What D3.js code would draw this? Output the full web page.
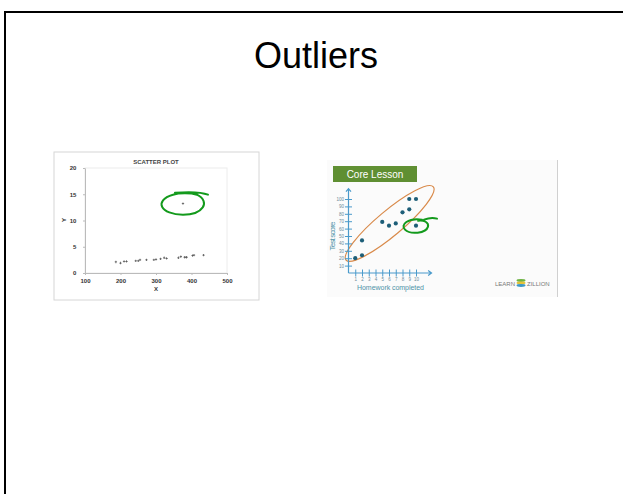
<!DOCTYPE html>
<html>
<head>
<meta charset="utf-8">
<script src="https://cdn.jsdelivr.net/npm/d3@7"></script>
<style>
  body { margin: 0; background: #fff; }
  svg { display: block; font-family: "Liberation Sans", Arial, sans-serif; }
</style>
</head>
<body>
<div id="slide"></div>
<script>
// left picture: generic scatter plot with one outlier
const scatterX = [187, 200, 210, 217, 243, 250, 255, 273, 294, 300, 313, 323, 330, 363, 370, 381, 386, 403, 407, 434, 376];
const scatterY = [2.1, 1.9, 2.2, 2.2, 2.3, 2.3, 2.5, 2.5, 2.5, 2.6, 2.7, 2.9, 2.8, 2.9, 3.1, 3.0, 3.0, 3.3, 3.4, 3.4, 13.2];
const scatterXTicks = [100, 200, 300, 400, 500];
const scatterYTicks = [0, 5, 10, 15, 20];

// right picture: homework vs test score
const homework = [1, 2, 2, 5, 6, 7, 8, 9, 9, 10, 10];
const testScore = [20, 24, 44, 69, 64, 67, 82, 86, 100, 100, 64];
const homeworkTicks = [1, 2, 3, 4, 5, 6, 7, 8, 9, 10];
const scoreTicks = [10, 20, 30, 40, 50, 60, 70, 80, 90, 100];

const W = 623, H = 494;
const svg = d3.select("#slide").append("svg").attr("width", W).attr("height", H);

// slide frame
svg.append("rect").attr("x", 5).attr("y", 12).attr("width", 640).attr("height", 500)
    .attr("fill", "#fff").attr("stroke", "#000").attr("stroke-width", 2);

svg.append("text").attr("x", 316).attr("y", 68).attr("text-anchor", "middle")
    .attr("font-size", 36).attr("fill", "#000").text("Outliers");

// ---------- left picture ----------
const left = svg.append("g");
left.append("rect").attr("x", 54).attr("y", 152).attr("width", 205).attr("height", 148)
    .attr("fill", "#fff").attr("stroke", "#d6d6d6").attr("stroke-width", 1);

const x1 = d3.scaleLinear().domain([100, 500]).range([85, 227]);
const y1 = d3.scaleLinear().domain([0, 20]).range([273, 168]);

left.append("rect").attr("x", x1(100)).attr("y", y1(20))
    .attr("width", x1(500) - x1(100)).attr("height", y1(0) - y1(20))
    .attr("fill", "none").attr("stroke", "#ececec");

left.append("text").attr("x", 156).attr("y", 164).attr("text-anchor", "middle")
    .attr("font-size", 6).attr("font-weight", "bold").attr("fill", "#444").text("SCATTER PLOT");

left.append("g").attr("transform", `translate(0,${y1(0)})`)
    .call(d3.axisBottom(x1).tickValues(scatterXTicks).tickSize(2).tickSizeOuter(0))
    .call(g => g.selectAll("text").attr("font-size", 6).attr("font-weight", "bold").attr("fill", "#333").attr("dy", "0.9em"))
    .call(g => g.selectAll("line,path").attr("stroke", "#bbb"));

left.append("g").attr("transform", `translate(${x1(100)},0)`)
    .call(d3.axisLeft(y1).tickValues(scatterYTicks).tickSize(2).tickSizeOuter(0))
    .call(g => g.selectAll("text").attr("font-size", 6).attr("font-weight", "bold").attr("fill", "#333").attr("dx", "-0.6em"))
    .call(g => g.selectAll("line,path").attr("stroke", "#bbb"));

left.append("text").attr("x", 156).attr("y", 291).attr("text-anchor", "middle")
    .attr("font-size", 6).attr("font-weight", "bold").attr("fill", "#333").text("X");
left.append("text").attr("transform", "translate(66,220) rotate(-90)").attr("text-anchor", "middle")
    .attr("font-size", 6).attr("font-weight", "bold").attr("fill", "#333").text("Y");

left.selectAll(".pt").data(scatterX).enter().append("path")
    .attr("class", "pt")
    .attr("d", d3.symbol(d3.symbolCross, 3))
    .attr("transform", (d, i) => `translate(${x1(d)},${y1(scatterY[i])})`)
    .attr("fill", "#555");

// green hand-drawn loop round the outlier
const o1 = [x1(scatterX[20]), y1(scatterY[20])];
left.append("path")
    .attr("d", `M${o1[0] - 10},${o1[1] - 9} C${o1[0] - 30},${o1[1] - 3} ${o1[0] - 22},${o1[1] + 11} ${o1[0]},${o1[1] + 11}
               C${o1[0] + 20},${o1[1] + 11} ${o1[0] + 28},${o1[1] - 2} ${o1[0] + 14},${o1[1] - 9}
               C${o1[0] + 8},${o1[1] - 11} ${o1[0] - 4},${o1[1] - 11} ${o1[0] - 10},${o1[1] - 9}
               M${o1[0] - 8},${o1[1] - 11} C${o1[0] + 6},${o1[1] - 12} ${o1[0] + 18},${o1[1] - 12} ${o1[0] + 25},${o1[1] - 9}`)
    .attr("fill", "none").attr("stroke", "#139a1c").attr("stroke-width", 2).attr("stroke-linecap", "round");

// ---------- right picture ----------
const right = svg.append("g");
right.append("rect").attr("x", 327).attr("y", 160).attr("width", 231).attr("height", 137)
    .attr("fill", "#fbfbfb");
right.append("line").attr("x1", 557.5).attr("x2", 557.5).attr("y1", 160).attr("y2", 297)
    .attr("stroke", "#d0d0d0");

right.append("rect").attr("x", 333).attr("y", 166).attr("width", 84).attr("height", 16)
    .attr("fill", "#5f8f32");
right.append("text").attr("x", 375).attr("y", 178).attr("text-anchor", "middle")
    .attr("font-size", 10).attr("fill", "#fff").text("Core Lesson");

const x2 = d3.scaleLinear().domain([0, 10]).range([348.5, 416]);
const y2 = d3.scaleLinear().domain([0, 100]).range([273, 199]);
const axisBlue = "#4a9acb";

// orange ellipse round the main cluster
const ec = [x2(6.1), y2(67)];
right.append("ellipse").attr("cx", ec[0]).attr("cy", ec[1]).attr("rx", 57).attr("ry", 12.5)
    .attr("transform", `rotate(-40,${ec[0]},${ec[1]})`)
    .attr("fill", "none").attr("stroke", "#d98a4a").attr("stroke-width", 1.2);

right.append("g").attr("transform", `translate(${x2(0)},0)`)
    .call(d3.axisLeft(y2).tickValues(scoreTicks).tickSize(3).tickSizeOuter(0))
    .call(g => g.select(".domain").remove())
    .call(g => g.selectAll("line").attr("x2", 3.5).attr("x1", -3.5).attr("stroke", axisBlue))
    .call(g => g.selectAll("text").attr("font-size", 4.5).attr("fill", "#6a8a9a").attr("x", -4.5));
right.append("g").attr("transform", `translate(0,${y2(0)})`)
    .call(d3.axisBottom(x2).tickValues(homeworkTicks).tickSize(3).tickSizeOuter(0))
    .call(g => g.select(".domain").remove())
    .call(g => g.selectAll("line").attr("y1", -3.5).attr("y2", 3.5).attr("stroke", axisBlue))
    .call(g => g.selectAll("text").attr("font-size", 4.5).attr("fill", "#6a8a9a").attr("y", 4.5));

// arrows for the axes
right.append("path").attr("d", `M${x2(0)},${y2(0)} V${y2(114)} M${x2(0) - 2.5},${y2(110)} L${x2(0)},${y2(114)} L${x2(0) + 2.5},${y2(110)}`)
    .attr("fill", "none").attr("stroke", axisBlue).attr("stroke-width", 1.2);
right.append("path").attr("d", `M${x2(0)},${y2(0)} H${x2(12.3)} M${x2(11.8)},${y2(0) - 2.5} L${x2(12.3)},${y2(0)} L${x2(11.8)},${y2(0) + 2.5}`)
    .attr("fill", "none").attr("stroke", axisBlue).attr("stroke-width", 1.2);

right.append("text").attr("transform", `translate(335,${y2(50)}) rotate(-90)`).attr("text-anchor", "middle")
    .attr("font-size", 8).attr("textLength", 29).attr("fill", "#4f93a8").text("Test score");
right.append("text").attr("x", 390.5).attr("y", 289.5).attr("text-anchor", "middle")
    .attr("font-size", 7).attr("textLength", 67).attr("fill", "#4f93a8").text("Homework completed");

right.selectAll(".dot").data(homework).enter().append("circle")
    .attr("class", "dot")
    .attr("cx", d => x2(d))
    .attr("cy", (d, i) => y2(testScore[i]))
    .attr("r", 2.1)
    .attr("fill", "#1d5e78");

// green loop round the outlier
const o2 = [x2(homework[10]), y2(testScore[10])];
right.append("path")
    .attr("d", `M${o2[0] + 6},${o2[1] - 6} C${o2[0] - 8},${o2[1] - 8} ${o2[0] - 16},${o2[1] - 1} ${o2[0] - 11},${o2[1] + 4}
               C${o2[0] - 6},${o2[1] + 9} ${o2[0] + 10},${o2[1] + 8} ${o2[0] + 12},${o2[1] + 1}
               C${o2[0] + 13},${o2[1] - 3} ${o2[0] + 8},${o2[1] - 6} ${o2[0] + 2},${o2[1] - 5}
               M${o2[0] + 8},${o2[1] - 6} C${o2[0] + 13},${o2[1] - 8} ${o2[0] + 18},${o2[1] - 8} ${o2[0] + 21},${o2[1] - 7}`)
    .attr("fill", "none").attr("stroke", "#139a1c").attr("stroke-width", 2).attr("stroke-linecap", "round");

// LearnZillion logo text
right.append("text").attr("x", 495).attr("y", 286).attr("font-size", 6).attr("fill", "#777").text("LEARN");
const logo = right.append("g").attr("transform", "translate(521,283)");
[["#6fb345", -2.5], ["#e3c23b", 0], ["#3c97c7", 2.5]].forEach(([c, dy]) => {
    logo.append("ellipse").attr("cx", 0).attr("cy", dy).attr("rx", 4.5).attr("ry", 1.4).attr("fill", c);
});
right.append("text").attr("x", 527).attr("y", 286).attr("font-size", 6).attr("fill", "#777").text("ZILLION");
</script>
</body>
</html>
